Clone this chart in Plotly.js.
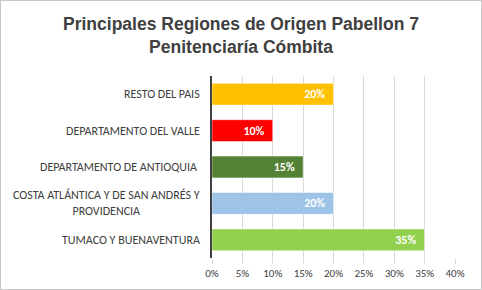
<!DOCTYPE html>
<html><head><meta charset="utf-8">
<script src="https://cdn.plot.ly/plotly-3.0.1.min.js"></script>
<style>
html,body{margin:0;padding:0;background:#fff;}
#chart{width:480px;height:288px;border:1px solid #c8c8c8;}
</style></head>
<body><div id="chart"></div>
<script>
var categories = ["RESTO DEL PAIS", "DEPARTAMENTO DEL VALLE", "DEPARTAMENTO DE ANTIOQUIA ", "COSTA ATLÁNTICA Y DE SAN ANDRÉS Y<br>PROVIDENCIA", "TUMACO Y BUENAVENTURA"];
var values = [0.20, 0.10, 0.15, 0.20, 0.35];
var valueLabels = ["20%", "10%", "15%", "20%", "35%"];
var colors = ["#FFC000", "#FF0000", "#548235", "#9DC3E6", "#92D050"];
var tickVals = [0, 0.05, 0.10, 0.15, 0.20, 0.25, 0.30, 0.35, 0.40];
var tickText = ["0%", "5%", "10%", "15%", "20%", "25%", "30%", "35%", "40%"];

var labelFont = "Carlito, Lato, sans-serif";

var trace = {
  type: "bar",
  orientation: "h",
  y: categories,
  x: values,
  text: valueLabels.map(function(t){return "<b>" + t + "</b>  ";}),
  textposition: "inside",
  insidetextanchor: "end",
  textfont: {family: labelFont, size: 12, color: "#ffffff"},
  marker: {color: colors, line: {color: "rgba(255,255,255,0.5)", width: 1}},
  hoverinfo: "none"
};

var annotations = categories.map(function(c){
  return {xref: "paper", yref: "y", x: -0.04, y: c, text: c, showarrow: false,
    xanchor: "right", yanchor: "middle", align: "center",
    font: {family: labelFont, size: 12, color: "#404040"}};
});

var layout = {
  width: 480, height: 288,
  margin: {l: 211, r: 26, t: 75, b: 31},
  paper_bgcolor: "#ffffff", plot_bgcolor: "#ffffff",
  showlegend: false,
  bargap: 0.4,
  title: {text: "Principales Regiones de Origen Pabellon 7<br>Penitenciaría Cómbita",
    font: {family: "'Liberation Sans', Arial, sans-serif", size: 17.5, color: "#404040", weight: "bold"},
    x: 0.5, xanchor: "center", xref: "container", y: 0.9, yanchor: "middle", yref: "container"},
  xaxis: {range: [0, 0.4], tickvals: tickVals, ticktext: tickText, showgrid: true,
    gridcolor: "#d9d9d9", gridwidth: 1, zeroline: false, ticks: "outside", ticklen: 5,
    tickcolor: "#d9d9d9", tickfont: {family: labelFont, size: 11, color: "#404040"}, fixedrange: true},
  yaxis: {autorange: "reversed", showticklabels: false, showline: true, linecolor: "#404040",
    linewidth: 2, ticks: "", showgrid: false, fixedrange: true},
  annotations: annotations
};

Plotly.newPlot("chart", [trace], layout, {displayModeBar: false, staticPlot: true});
</script></body></html>
